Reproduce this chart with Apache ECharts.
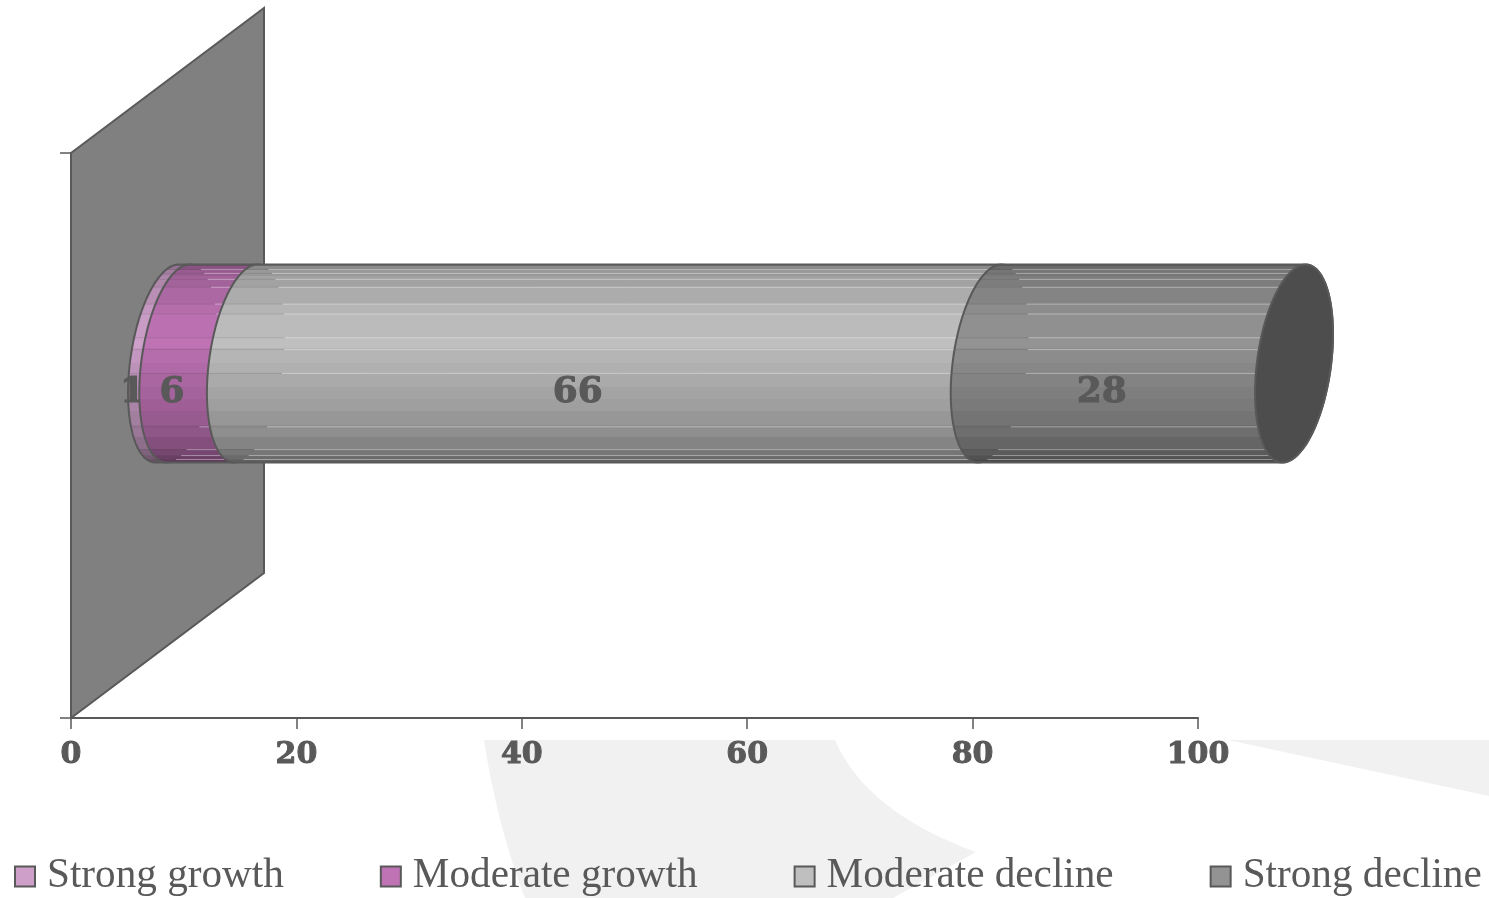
<!DOCTYPE html>
<html><head><meta charset="utf-8">
<style>html,body{margin:0;padding:0;background:#fff}#c{width:1489px;height:898px}</style>
<script src="https://cdn.jsdelivr.net/npm/echarts@6/dist/echarts.min.js"></script>
</head><body><div id="c"></div>
<script>
const categories = [''];
const seriesNames = ['Strong growth', 'Moderate growth', 'Moderate decline', 'Strong decline'];
const strongGrowth = [1];
const moderateGrowth = [6];
const moderateDecline = [66];
const strongDecline = [28];
const seriesValues = [strongGrowth, moderateGrowth, moderateDecline, strongDecline];
const xTicks = [0, 20, 40, 60, 80, 100];
const axisMax = 100;   // the stack sums to 101; the axis clips it at 100

const colors = ['#cd9fc9', '#bf73b5', '#bfbfbf', '#939393'];
const lineC = '#595959';
const depth = { x: 96, y: -72 };           // bar sits mid-depth
const wallDepth = { x: 193, y: -145 };
const ell = { a: 39, b: -29.5, h: 94.5 };
const R = Math.hypot(ell.b, ell.h), alpha = Math.atan2(-ell.b, ell.h);
// stepped shading: [offset, brightness]
const bands = [[0,.62],[.012,.72],[.03,.8],[.06,.85],[.115,.9],[.2,.95],[.25,.98],[.37,1],[.42,.95],[.5,.92],[.55,.89],[.62,.86],[.68,.83],[.74,.79],[.81,.75],[.87,.69],[.93,.62],[.965,.56],[.985,.5]];
// seam lines, as fractions of the cylinder height
const seams = [.025,.045,.075,.115,.2,.25,.37,.43,.55,.82,.935,.965,.985];

function shade(hex, k) {
  const n = parseInt(hex.slice(1), 16);
  const f = s => Math.round(((n >> s) & 255) * k);
  return `rgb(${f(16)},${f(8)},${f(0)})`;
}
function gradient(hex) {
  const stops = [];
  bands.forEach((b, i) => {
    const end = i + 1 < bands.length ? bands[i + 1][0] : 1;
    const c = shade(hex, b[1]);
    stops.push({ offset: b[0], color: c }, { offset: end, color: c });
  });
  return new echarts.graphic.LinearGradient(0, 0, 0, 1, stops);
}
const pt = (c, th) => [c[0] + ell.a * Math.cos(alpha + th), c[1] + R * Math.sin(th)];
const xAt = (c, dy, side) => {
  const s = Math.asin(Math.max(-1, Math.min(1, dy / R)));
  return pt(c, side > 0 ? s : Math.PI - s)[0];
};
function arc(c, from, to, n) {
  const out = [];
  for (let i = 0; i <= n; i++) out.push(pt(c, from + (to - from) * i / n));
  return out;
}
function quad(a, q, b, n) {
  const out = [];
  for (let i = 0; i <= n; i++) {
    const t = i / n, u = 1 - t;
    out.push([u*u*a[0] + 2*u*t*q[0] + t*t*b[0], u*u*a[1] + 2*u*t*q[1] + t*t*b[1]]);
  }
  return out;
}

function renderSegment(params, api) {
  const idx = params.seriesIndex - 1;
  let base = 0;
  for (let i = 0; i < idx; i++) base += seriesValues[i][0];
  const v = api.value(0);
  const cat = api.value(1);
  const top = Math.min(base + v, axisMax);
  const p0 = api.coord([base, cat]), p1 = api.coord([top, cat]);
  const c0 = [p0[0] + depth.x, p0[1] + depth.y], c1 = [p1[0] + depth.x, p1[1] + depth.y];
  const PI = Math.PI;
  const pts = arc(c0, -PI / 2, -3 * PI / 2, 40).concat(arc(c1, PI / 2, -PI / 2, 40));
  const kids = [{
    type: 'polygon', shape: { points: pts },
    style: { fill: gradient(colors[idx]), stroke: lineC, lineWidth: 2 }
  }];
  seams.forEach(f => {
    const dy = (f - .5) * 2 * R, y = c0[1] + dy;
    const xl = xAt(c0, dy, -1), xr = xAt(c0, dy, 1), xe = xAt(c1, dy, -1);
    const darkEnd = xe > xr ? xr : xe;
    kids.push({ type: 'line', shape: { x1: xl + 1, y1: y, x2: darkEnd, y2: y },
      style: { stroke: 'rgba(60,60,60,.14)', lineWidth: 1 } });
    if (xe > xr) kids.push({ type: 'line', shape: { x1: xr, y1: y, x2: xe, y2: y },
      style: { stroke: 'rgba(255,255,255,.38)', lineWidth: 1 } });
  });
  if (idx === seriesValues.length - 1) {
    kids.push({ type: 'polygon', shape: { points: arc(c1, 0, 2 * PI, 80) },
      style: { fill: '#4d4d4d', stroke: lineC, lineWidth: 2 } });
  }
  const mid = api.coord([(base + top) / 2, cat]);
  kids.push({ type: 'text', z2: 50, style: {
    text: String(v),
    x: mid[0] + depth.x - ell.a - 1, y: mid[1] + depth.y - ell.b,
    align: 'center', verticalAlign: 'middle',
    font: 'bold 36px "DejaVu Serif"', fill: lineC, stroke: lineC, lineWidth: 1 } });
  return { type: 'group', children: kids };
}
function renderWall(params, api) {
  const bl = api.coord([0, api.value(1)]);
  const h = api.size([0, 1])[1];
  const y0 = bl[1] + h / 2, y1 = bl[1] - h / 2;
  return { type: 'polygon', shape: { points: [
    [bl[0], y1], [bl[0] + wallDepth.x, y1 + wallDepth.y],
    [bl[0] + wallDepth.x, y0 + wallDepth.y], [bl[0], y0]] },
    style: { fill: '#808080', stroke: lineC, lineWidth: 2 } };
}

const chart = echarts.init(document.getElementById('c'), null, { renderer: 'canvas' });
const series = [{
  type: 'custom', name: 'wall', renderItem: renderWall, clip: false, silent: true,
  data: [[0, 0]], encode: { x: 0, y: 1 }, z: 2
}];
seriesNames.forEach((name, i) => series.push({
  type: 'custom', name, renderItem: renderSegment, clip: false,
  itemStyle: { color: colors[i] },
  data: seriesValues[i].map((v, k) => [v, k]), encode: { x: 0, y: 1 }, z: 3 + i
}));
const shapeA = [[484,740],[835,740]].concat(quad([835,740],[866,812],[976,852],16), [[893,898],[525,898]], quad([525,898],[497,825],[484,740],12));
const shapeB = [[1228,740],[1489,740],[1489,796]];
chart.setOption({
  animation: false,
  backgroundColor: '#fff',
  graphic: { elements: [
    { type: 'polygon', z: -10, silent: true, shape: { points: shapeA }, style: { fill: '#f1f1f1' } },
    { type: 'polygon', z: -10, silent: true, shape: { points: shapeB }, style: { fill: '#f1f1f1' } }
  ] },
  grid: { left: 71, right: 291, top: 153, bottom: 180 },
  xAxis: {
    type: 'value', min: 0, max: axisMax, interval: 20,
    axisLine: { show: true, lineStyle: { color: lineC, width: 2 } },
    axisTick: { show: true, length: 11, lineStyle: { color: lineC, width: 1.5 } },
    axisLabel: { margin: 22, color: lineC, fontFamily: 'DejaVu Serif', fontWeight: 'bold', fontSize: 30,
      textBorderColor: lineC, textBorderWidth: 1,
      customValues: xTicks, formatter: v => String(v) },
    splitLine: { show: false }
  },
  yAxis: {
    type: 'category', data: categories,
    axisLine: { show: true, lineStyle: { color: lineC, width: 2 } },
    axisTick: { show: true, length: 11, lineStyle: { color: lineC, width: 1.5 } },
    axisLabel: { show: false }
  },
  legend: {
    data: seriesNames, left: 14, top: 856, icon: 'rect', itemWidth: 20, itemHeight: 20, itemGap: 96, padding: 0,
    itemStyle: { borderColor: lineC, borderWidth: 2 },
    textStyle: { color: lineC, fontFamily: 'Liberation Serif', fontSize: 41.2, padding: [15, 0, 0, 7] }
  },
  series
});
</script></body></html>
